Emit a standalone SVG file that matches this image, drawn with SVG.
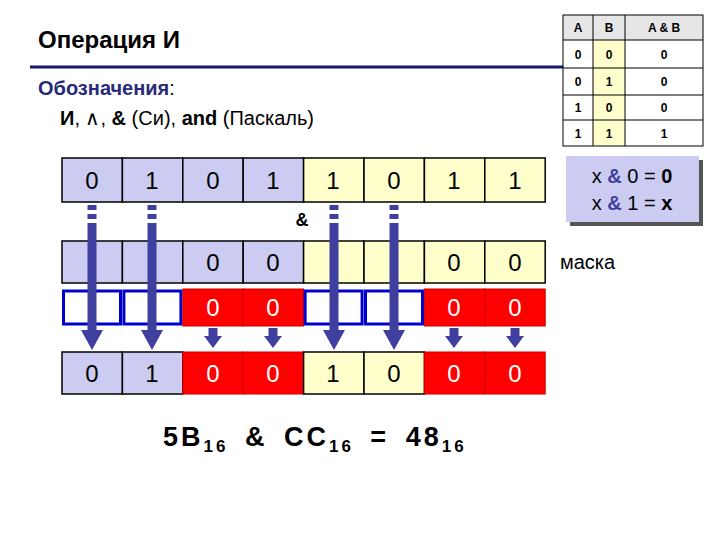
<svg xmlns="http://www.w3.org/2000/svg" width="720" height="540" viewBox="0 0 720 540">
<defs>
<style>
text{font-family:"Liberation Sans",Arial,sans-serif}
.c{stroke:#000;stroke-width:1.5}
.lv{fill:#ccccf2}.yl{fill:#ffffcc}.rd{fill:#ff0000;stroke:#cc0000;stroke-width:1}
.bo{fill:#fff;stroke:#0000cc;stroke-width:3}
.d{font-size:24px;text-anchor:middle}
.w{fill:#fff}
.t{font-size:12px;font-weight:bold;text-anchor:middle}
.ah{fill:#3f3f9f}
</style>
<path id="head" d="M-11,0L11,0L0,20z"/>
</defs>
<rect width="720" height="540" fill="#fff"/>
<g id="title">
<text x="38" y="48" font-size="24" font-weight="bold">Операция И</text>
<line x1="30" y1="67" x2="563" y2="67" stroke="#1a1a66" stroke-width="3"/>
<text x="38" y="95" font-size="20" fill="#2a2a7a" font-weight="bold">Обозначения<tspan fill="#000" font-weight="normal">:</tspan></text>
<text x="60" y="125" font-size="20"><tspan font-weight="bold">И</tspan>,  ∧,  <tspan font-weight="bold">&amp;</tspan> (Си), <tspan font-weight="bold">and</tspan> (Паскаль)</text>
</g>
<g id="truth-table">
<rect x="563" y="15" width="140" height="25" fill="#e6e6e6"/>
<rect x="593" y="40" width="32" height="106" fill="#ffffcc"/>
<g stroke="#000" stroke-width="1" fill="none">
<rect x="563" y="15" width="140" height="131"/>
<line x1="593" y1="15" x2="593" y2="146"/><line x1="625" y1="15" x2="625" y2="146"/>
<line x1="563" y1="40" x2="703" y2="40"/><line x1="563" y1="68" x2="703" y2="68"/>
<line x1="563" y1="95" x2="703" y2="95"/><line x1="563" y1="120" x2="703" y2="120"/>
</g>
<text class="t" x="578" y="32">A</text><text class="t" x="609" y="32">B</text><text class="t" x="664" y="32">A &amp; B</text>
<text class="t" x="578" y="59">0</text><text class="t" x="609" y="59">0</text><text class="t" x="664" y="59">0</text>
<text class="t" x="578" y="86">0</text><text class="t" x="609" y="86">1</text><text class="t" x="664" y="86">0</text>
<text class="t" x="578" y="112">1</text><text class="t" x="609" y="112">0</text><text class="t" x="664" y="112">0</text>
<text class="t" x="578" y="138">1</text><text class="t" x="609" y="138">1</text><text class="t" x="664" y="138">1</text>
</g>
<g id="rule-box">
<rect x="570" y="160" width="133" height="66" fill="#555"/>
<rect x="566" y="156" width="133" height="66" fill="#ccccf2"/>
<text x="632" y="183" font-size="20" text-anchor="middle">x <tspan fill="#3f3f9f" font-weight="bold">&amp;</tspan> 0 = <tspan font-weight="bold">0</tspan></text>
<text x="632" y="210" font-size="20" text-anchor="middle">x <tspan fill="#3f3f9f" font-weight="bold">&amp;</tspan> 1 = <tspan font-weight="bold">x</tspan></text>
</g>
<g id="row-a">
<rect class="c lv" x="62" y="158" width="60.4" height="44"/><rect class="c lv" x="122.4" y="158" width="60.4" height="44"/>
<rect class="c lv" x="182.8" y="158" width="60.4" height="44"/><rect class="c lv" x="243.2" y="158" width="60.4" height="44"/>
<rect class="c yl" x="303.6" y="158" width="60.4" height="44"/><rect class="c yl" x="364" y="158" width="60.4" height="44"/>
<rect class="c yl" x="424.4" y="158" width="60.4" height="44"/><rect class="c yl" x="484.8" y="158" width="60.4" height="44"/>
<text class="d" x="92" y="189">0</text><text class="d" x="152" y="189">1</text><text class="d" x="213" y="189">0</text><text class="d" x="273" y="189">1</text>
<text class="d" x="333" y="189">1</text><text class="d" x="394" y="189">0</text><text class="d" x="454" y="189">1</text><text class="d" x="515" y="189">1</text>
</g>
<text x="302" y="226" font-size="18" font-weight="bold" text-anchor="middle">&amp;</text>
<g id="mask-row">
<rect class="c lv" x="62" y="241" width="60.4" height="42"/><rect class="c lv" x="122.4" y="241" width="60.4" height="42"/>
<rect class="c lv" x="182.8" y="241" width="60.4" height="42"/><rect class="c lv" x="243.2" y="241" width="60.4" height="42"/>
<rect class="c yl" x="303.6" y="241" width="60.4" height="42"/><rect class="c yl" x="364" y="241" width="60.4" height="42"/>
<rect class="c yl" x="424.4" y="241" width="60.4" height="42"/><rect class="c yl" x="484.8" y="241" width="60.4" height="42"/>
<text class="d" x="213" y="271">0</text><text class="d" x="273" y="271">0</text><text class="d" x="454" y="271">0</text><text class="d" x="515" y="271">0</text>
<text x="560" y="269" font-size="20">маска</text>
</g>
<g id="filter-row">
<rect class="bo" x="63.5" y="291" width="57" height="33"/><rect class="bo" x="123.9" y="291" width="57" height="33"/>
<rect class="rd" x="182.8" y="289" width="60.4" height="37"/><rect class="rd" x="243.2" y="289" width="60.4" height="37"/>
<rect class="bo" x="305.1" y="291" width="57" height="33"/><rect class="bo" x="365.5" y="291" width="57" height="33"/>
<rect class="rd" x="424.4" y="289" width="60.4" height="37"/><rect class="rd" x="484.8" y="289" width="60.4" height="37"/>
<text class="d w" x="213" y="316">0</text><text class="d w" x="273" y="316">0</text><text class="d w" x="454" y="316">0</text><text class="d w" x="515" y="316">0</text>
</g>
<g id="row-result">
<rect class="c lv" x="62" y="352" width="60.4" height="42"/><rect class="c lv" x="122.4" y="352" width="60.4" height="42"/>
<rect class="rd" x="182.8" y="352" width="60.4" height="42"/><rect class="rd" x="243.2" y="352" width="60.4" height="42"/>
<rect class="c yl" x="303.6" y="352" width="60.4" height="42"/><rect class="c yl" x="364" y="352" width="60.4" height="42"/>
<rect class="rd" x="424.4" y="352" width="60.4" height="42"/><rect class="rd" x="484.8" y="352" width="60.4" height="42"/>
<text class="d" x="92" y="382">0</text><text class="d" x="152" y="382">1</text><text class="d w" x="213" y="382">0</text><text class="d w" x="273" y="382">0</text>
<text class="d" x="333" y="382">1</text><text class="d" x="394" y="382">0</text><text class="d w" x="454" y="382">0</text><text class="d w" x="515" y="382">0</text>
</g>
<g id="connectors">
<g stroke="#3f3f9f" stroke-width="9">
<g stroke-dasharray="5,4">
<line x1="92" y1="205" x2="92" y2="229"/><line x1="152" y1="205" x2="152" y2="229"/>
<line x1="334" y1="205" x2="334" y2="229"/><line x1="394" y1="205" x2="394" y2="229"/>
</g>
<line x1="92" y1="228" x2="92" y2="332"/><line x1="152" y1="228" x2="152" y2="332"/>
<line x1="334" y1="228" x2="334" y2="332"/><line x1="394" y1="228" x2="394" y2="332"/>
<line x1="213" y1="328" x2="213" y2="337"/><line x1="273" y1="328" x2="273" y2="337"/>
<line x1="454" y1="328" x2="454" y2="337"/><line x1="515" y1="328" x2="515" y2="337"/>
</g>
<g class="ah">
<use href="#head" x="92" y="330"/><use href="#head" x="152" y="330"/>
<use href="#head" x="334" y="330"/><use href="#head" x="394" y="330"/>
<path d="M204,336h18l-9,12z"/><path d="M264,336h18l-9,12z"/>
<path d="M445,336h18l-9,12z"/><path d="M506,336h18l-9,12z"/>
</g>
</g>
<text x="163" y="446" font-size="27" font-weight="bold" letter-spacing="3" word-spacing="6">5B<tspan font-size="17" dy="6">16</tspan><tspan dy="-6"> &amp; CC</tspan><tspan font-size="17" dy="6">16</tspan><tspan dy="-6"> = 48</tspan><tspan font-size="17" dy="6">16</tspan></text>
</svg>
